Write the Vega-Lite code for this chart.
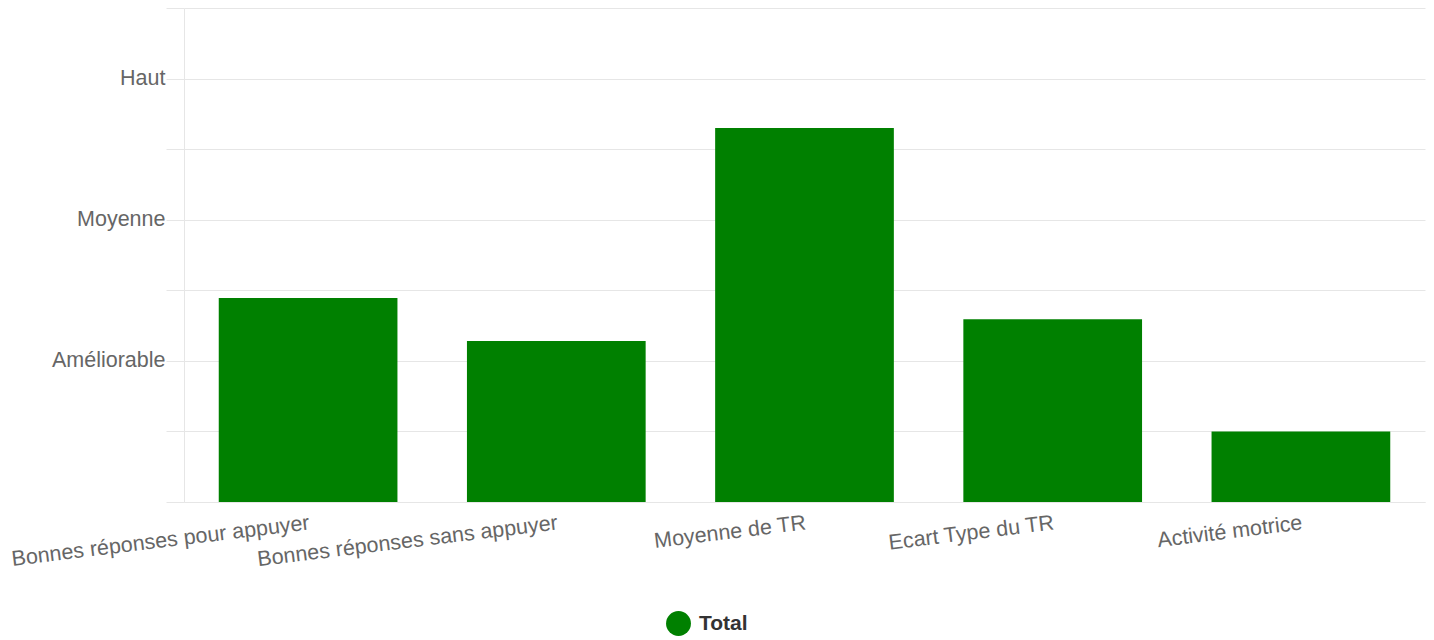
{
  "$schema": "https://vega.github.io/schema/vega-lite/v6.json",
  "width": 1241,
  "height": 494,
  "autosize": {"type": "none"},
  "padding": {"left": 184, "top": 8, "right": 9, "bottom": 138},
  "background": "white",
  "config": {
    "font": "Liberation Sans",
    "view": {"stroke": null},
    "axis": {"gridColor": "#e6e6e6", "domainColor": "#e6e6e6", "labelColor": "#666666", "labelFont": "Liberation Sans"}
  },
  "data": {
    "values": [
      {"critere": "Bonnes réponses pour appuyer", "serie": "Total", "valeur": 2.89},
      {"critere": "Bonnes réponses sans appuyer", "serie": "Total", "valeur": 2.28},
      {"critere": "Moyenne de TR", "serie": "Total", "valeur": 5.3},
      {"critere": "Ecart Type du TR", "serie": "Total", "valeur": 2.59},
      {"critere": "Activité motrice", "serie": "Total", "valeur": 1.0}
    ]
  },
  "mark": {"type": "bar"},
  "encoding": {
    "x": {
      "field": "critere",
      "type": "nominal",
      "sort": null,
      "title": null,
      "scale": {"paddingInner": 0.28, "paddingOuter": 0.14},
      "axis": {
        "labelAngle": -7,
        "labelAlign": "right",
        "labelBaseline": "top",
        "labelPadding": 10,
        "labelFontSize": 21.5,
        "labelLimit": 0,
        "ticks": false,
        "grid": false,
        "labelBound": false,
        "labelOverlap": false,
        "labelFlush": false,
        "domainColor": "#e6e6e6"
      }
    },
    "y": {
      "field": "valeur",
      "type": "quantitative",
      "title": null,
      "scale": {"domain": [0, 7], "nice": false},
      "axis": {
        "values": [0, 1, 2, 3, 4, 5, 6, 7],
        "labelExpr": "datum.value == 2 ? 'Améliorable' : datum.value == 4 ? 'Moyenne' : datum.value == 6 ? 'Haut' : ''",
        "tickSize": 18,
        "tickColor": "#e6e6e6",
        "labelPadding": 1,
        "labelFontSize": 21.5,
        "grid": true,
        "domain": true,
        "domainColor": "#e6e6e6"
      }
    },
    "color": {
      "field": "serie",
      "type": "nominal",
      "scale": {"range": ["#008000"]},
      "legend": {
        "title": null,
        "orient": "none",
        "legendX": 482,
        "legendY": 603,
        "padding": 0,
        "symbolType": "circle",
        "symbolSize": 620,
        "symbolStrokeWidth": 0,
        "symbolOpacity": 1,
        "labelFontSize": 21,
        "labelFontWeight": "bold",
        "labelColor": "#333333",
        "labelOffset": 8
      }
    }
  }
}
